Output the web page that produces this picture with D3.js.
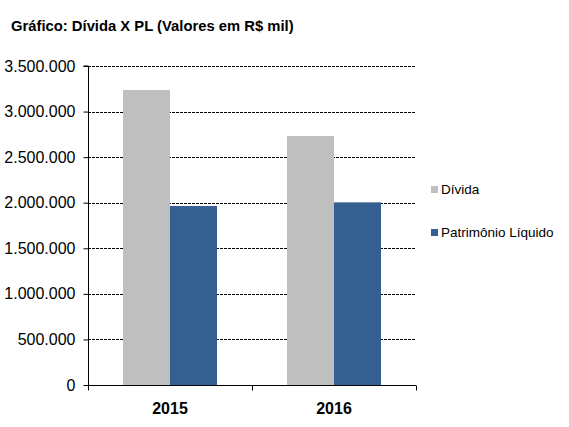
<!DOCTYPE html>
<html><head><meta charset="utf-8">
<script src="https://cdn.jsdelivr.net/npm/d3@7"></script>
<style>body{margin:0;background:#fff;font-family:"Liberation Sans",Arial,sans-serif;}</style>
</head><body>
<svg id="c" width="569" height="427"></svg>
<script>
const categories = ["2015", "2016"];
const seriesNames = ["Dívida", "Patrimônio Líquido"];
const divida = [3237000, 2732000];
const pl = [1964000, 2004000];
const yTicks = [0, 500000, 1000000, 1500000, 2000000, 2500000, 3000000, 3500000];
const colors = ["#BFBFBF", "#355F91"];

const svg = d3.select("#c");
const m = {l: 88, r: 416, t: 66, b: 385};
const x = d3.scaleBand().domain(categories).range([m.l, m.r]).paddingInner(0).paddingOuter(0);
const x1 = d3.scaleBand().domain(seriesNames).range([0, x.bandwidth()]).paddingInner(0).paddingOuter(0.745);
const y = d3.scaleLinear().domain([0, 3500000]).range([m.b, m.t]);
const fmt = v => d3.format(",")(v).replace(/,/g, ".");

svg.append("text").attr("x", 11).attr("y", 31).attr("font-size", 14.8).attr("font-weight", "bold").text("Gráfico: Dívida X PL (Valores em R$ mil)");

// grid
svg.append("g").selectAll("line").data(yTicks.filter(d => d > 0)).join("line")
  .attr("x1", m.l).attr("x2", m.r).attr("y1", d => Math.round(y(d)) + 0.5).attr("y2", d => Math.round(y(d)) + 0.5)
  .attr("stroke", "#000").attr("stroke-dasharray", "3,1").attr("stroke-width", 1);

const data = categories.map((c, i) => ({c, vals: [divida[i], pl[i]]}));
svg.append("g").selectAll("g").data(data).join("g")
  .attr("transform", d => `translate(${x(d.c)},0)`)
  .selectAll("rect").data(d => d.vals.map((v, j) => ({v, s: seriesNames[j], j}))).join("rect")
  .attr("x", d => x1(d.s)).attr("width", x1.bandwidth())
  .attr("y", d => y(d.v)).attr("height", d => y(0) - y(d.v))
  .attr("fill", d => colors[d.j]);

// y axis
const ya = svg.append("g").attr("transform", `translate(${m.l + 0.5},0)`)
  .call(d3.axisLeft(y).tickValues(yTicks).tickFormat(fmt).tickSize(5).tickPadding(8));
ya.selectAll("text").attr("font-size", 16).attr("font-family", "Liberation Sans, Arial, sans-serif").attr("fill", "#000");
ya.selectAll("line").attr("stroke", "#000");
ya.select(".domain").attr("stroke", "#000").attr("d", `M-5,${m.t}H0V${m.b}`);

// x axis
const xa = svg.append("g").attr("transform", `translate(0,${m.b + 0.5})`);
xa.append("line").attr("x1", m.l).attr("x2", m.r).attr("stroke", "#000");
xa.selectAll(".tk").data([...categories.map(c => x(c)), m.r]).join("line")
  .attr("x1", d => Math.round(d) + 0.5).attr("x2", d => Math.round(d) + 0.5).attr("y1", 0).attr("y2", 5).attr("stroke", "#000");
xa.selectAll("text").data(categories).join("text")
  .attr("x", d => x(d) + x.bandwidth() / 2).attr("y", 28).attr("text-anchor", "middle")
  .attr("font-size", 16).attr("font-weight", "bold").text(d => d);

// legend
const lg = svg.append("g").selectAll("g").data(seriesNames).join("g")
  .attr("transform", (d, i) => `translate(431,${186 + i * 43})`);
lg.append("rect").attr("width", 7).attr("height", 7).attr("fill", (d, i) => colors[i]);
lg.append("text").attr("x", 10).attr("y", 7.5).attr("font-size", 13.5).text(d => d);
</script>
</body></html>
